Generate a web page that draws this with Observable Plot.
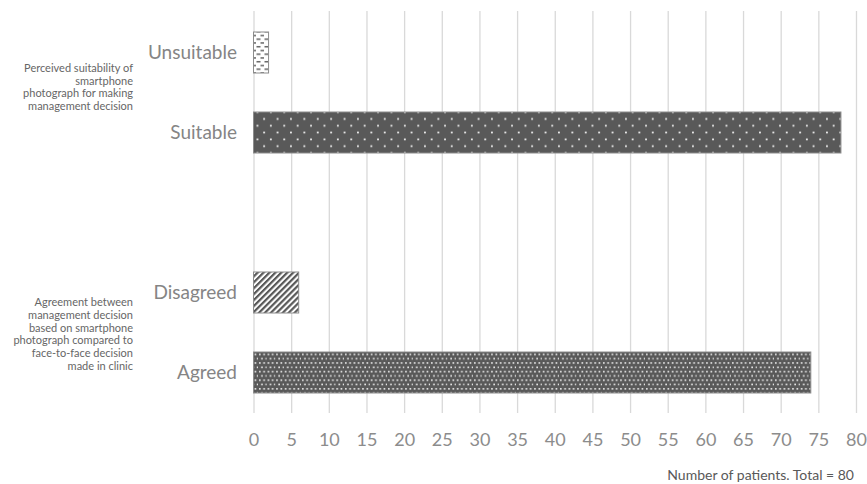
<!DOCTYPE html>
<html>
<head>
<meta charset="utf-8">
<script src="https://cdn.jsdelivr.net/npm/d3@7"></script>
<script src="https://cdn.jsdelivr.net/npm/@observablehq/plot@0.6"></script>
<style>
  html, body { margin: 0; padding: 0; background: #fff; }
  #wrap { position: relative; width: 867px; height: 484px; font-family: Lato, "Open Sans", sans-serif; }
  #caption { position: absolute; right: 13px; top: 466px; font-size: 14px; color: #595959; white-space: nowrap; }
</style>
</head>
<body>
<div id="wrap">
  <div id="chart"></div>
  <div id="caption">Number of patients. Total = 80</div>
</div>
<script>
// ---- data ----
const categories = ["Unsuitable", "Suitable", "Disagreed", "Agreed"];
const values = [2, 78, 6, 74];
const patterns = ["pDash", "pDotWide", "pStripe", "pDotDense"];
const groupLabels = [
  "Perceived suitability of\nsmartphone\nphotograph for making\nmanagement decision",
  "Agreement between\nmanagement decision\nbased on smartphone\nphotograph compared to\nface-to-face decision\nmade in clinic"
];
const groupFirst = ["Unsuitable", "Disagreed"];
const xTicks = d3.range(0, 81, 5);

const rows = categories.map((c, i) => ({ cat: c, value: values[i], pat: patterns[i] }));
const yDomain = ["Unsuitable", "Suitable", "_gap_", "Disagreed", "Agreed"];

const chart = Plot.plot({
  width: 867,
  height: 452,
  marginLeft: 253.5,
  marginRight: 11,
  marginTop: 11,
  marginBottom: 39,
  style: { fontFamily: "Lato, 'Open Sans', sans-serif", background: "#fff" },
  x: { domain: [0, 80], ticks: xTicks, tickSize: 0, tickPadding: 20, label: null },
  y: { domain: yDomain, paddingInner: 0.49, paddingOuter: 0.245, label: null },
  marks: [
    Plot.ruleX(xTicks, { stroke: "#d9d9d9", strokeWidth: 1.3 }),
    Plot.barX(rows, { x: "value", y: "cat", fill: d => `url(#${d.pat})`, stroke: "#8c8c8c", strokeWidth: 1 }),
    Plot.axisX({ ticks: xTicks, tickSize: 0, tickPadding: 20, fontSize: 18, fill: "#8c8c8c", label: null }),
    Plot.axisY({ tickSize: 0, tickPadding: 17, fontSize: 19, fill: "#858585", label: null, tickFormat: d => d === "_gap_" ? "" : d }),
    Plot.text([groupLabels[0]], { x: () => 0, y: () => groupFirst[0], text: d => d, dx: -121, dy: 34, textAnchor: "end", fontSize: 11, lineHeight: 1.15, fill: "#666" }),
    Plot.text([groupLabels[1]], { x: () => 0, y: () => groupFirst[1], text: d => d, dx: -121, dy: 41, textAnchor: "end", fontSize: 11, lineHeight: 1.15, fill: "#666" })
  ]
});

// pattern definitions
const ns = "http://www.w3.org/2000/svg";
const defs = document.createElementNS(ns, "defs");
defs.innerHTML = `
  <pattern id="pDash" patternUnits="userSpaceOnUse" width="8" height="7.5">
    <rect width="8" height="7.5" fill="#fff"/>
    <rect x="0.5" y="1" width="4" height="1.4" fill="#595959"/>
    <rect x="4.5" y="4.8" width="3.5" height="1.4" fill="#595959"/>
  </pattern>
  <pattern id="pDotWide" patternUnits="userSpaceOnUse" width="13.4" height="13.6">
    <rect width="13.4" height="13.6" fill="#595959"/>
    <rect x="2" y="2.5" width="1.7" height="1.7" fill="#ffffff"/>
    <rect x="8.7" y="9.3" width="1.7" height="1.7" fill="#ffffff"/>
  </pattern>
  <pattern id="pStripe" patternUnits="userSpaceOnUse" width="4.2" height="4.2" patternTransform="rotate(45)">
    <rect width="4.2" height="4.2" fill="#fff"/>
    <rect width="2.2" height="4.2" fill="#595959"/>
  </pattern>
  <pattern id="pDotDense" patternUnits="userSpaceOnUse" width="8.6" height="8.6">
    <rect width="8.6" height="8.6" fill="#595959"/>
    <rect x="1" y="1" width="1.6" height="1.6" fill="#f0f0f0"/>
    <rect x="5.3" y="1" width="1.6" height="1.6" fill="#f0f0f0"/>
    <rect x="3.15" y="5.3" width="1.6" height="1.6" fill="#f0f0f0"/>
    <rect x="7.45" y="5.3" width="1.6" height="1.6" fill="#f0f0f0"/>
  </pattern>`;
chart.insertBefore(defs, chart.firstChild);
document.getElementById("chart").appendChild(chart);
</script>
</body>
</html>
